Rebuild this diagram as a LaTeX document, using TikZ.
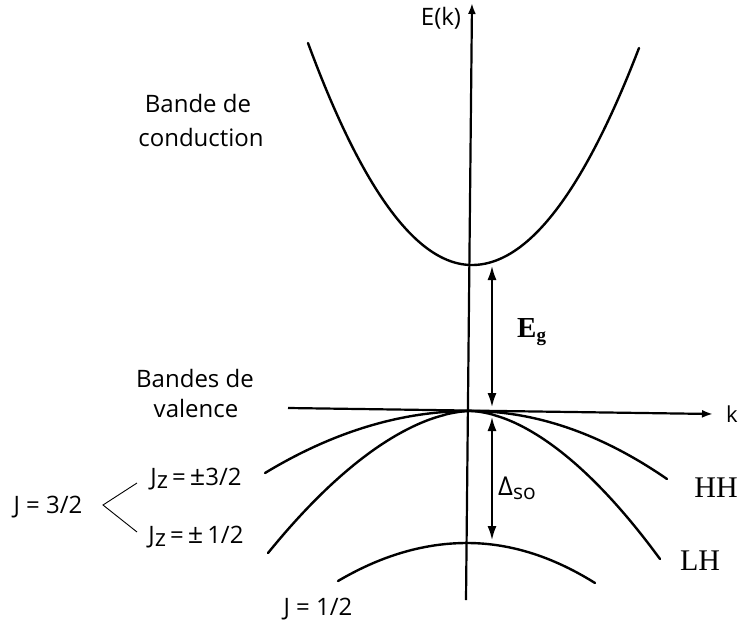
\documentclass[tikz,border=0pt]{standalone}
\usepackage{fontspec}
\setmainfont{Open Sans}
\newfontfamily\serif{Liberation Serif}
\usetikzlibrary{arrows.meta}
\begin{document}
\begin{tikzpicture}[x=1pt,y=-1pt,
  band/.style={line width=2.4pt, line cap=round},
  axis/.style={line width=2.2pt, -{Latex[length=11pt,width=8pt]}},
  gap/.style={line width=2.8pt, {Latex[length=15pt,width=9pt]}-{Latex[length=15pt,width=9pt]}},
  brace/.style={line width=0.9pt},
  lab/.style={font=\fontsize{24}{28}\selectfont, inner sep=0pt, anchor=base},
  slab/.style={font=\serif\fontsize{30}{34}\selectfont, inner sep=0pt, anchor=base},
]
\useasboundingbox (0,0) rectangle (741,621);

% axes
\coordinate (ybot) at (466,600);
\coordinate (ytop) at (472,3);
\coordinate (xleft) at (288,408);
\coordinate (xright) at (713,414);
\draw[axis] (ybot) -- (ytop);
\draw[axis] (xleft) -- (xright);

% conduction band
\draw[band] plot[domain=308:639, samples=120, smooth]
  (\x, {265 - (\x<472 ? 222*((\x-472)/164)^2 : 217*((\x-472)/167)^2)});
% heavy holes
\draw[band] plot[domain=265:667, samples=120, smooth]
  (\x, {411 + (\x<470 ? 62*((\x-470)/205)^2 : 68*((\x-470)/197)^2)});
% light holes
\draw[band] plot[domain=268:660, samples=120, smooth]
  (\x, {411 + (\x<470 ? 142*(abs(\x-470)/202)^1.75 : 148*(abs(\x-470)/190)^1.75)});
% split-off
\draw[band] plot[domain=338:595, samples=100, smooth]
  (\x, {543 + (\x<467 ? 38*((\x-467)/129)^2 : 40*((\x-467)/128)^2)});

% gap arrows
\coordinate (cbmin) at (492,265);
\coordinate (vbtopA) at (492,408);
\coordinate (vbtopB) at (492,416);
\coordinate (somax) at (492,541);
\draw[gap] (cbmin) -- (vbtopA);
\draw[gap] (vbtopB) -- (somax);

% labels
\node[lab] (ek) at (441,25) {E(k)};
\node[lab, font=\fontsize{22}{26}\selectfont] (kk) at (732,422) {k};
\node[lab] (bc1) at (198,112) {Bande de};
\node[lab] (bc2) at (201,146) {conduction};
\node[lab] (bv1) at (195,387) {Bandes de};
\node[lab] (bv2) at (196,417) {valence};
\node[lab] (j32) at (48,513) {J = 3/2};
\node[lab] (jz32) at (196,485) {J\raisebox{-0.25ex}{z}\,=\,{\fontsize{27}{28}\selectfont ±}3/2};
\node[lab] (jz12) at (196,543) {J\raisebox{-0.25ex}{z}\,=\,{\fontsize{27}{28}\selectfont ±}\,1/2};
\node[lab] (j12) at (318,615) {J = 1/2};
\node[slab] (hh) at (716,497) {HH};
\node[slab] (lh) at (700,570) {LH};
\node[inner sep=0pt, anchor=base west, font=\serif\bfseries\fontsize{29}{32}\selectfont] (eg) at (517,337) {E\raisebox{-0.35ex}{\fontsize{19}{22}\selectfont g}};
\node[lab, anchor=base west, font=\fontsize{26}{30}\selectfont] (dso) at (498,495) {Δ\raisebox{-0.3ex}{\fontsize{21}{24}\selectfont so}};

% J=3/2 bracket
\coordinate (br1) at (137,483);
\coordinate (br0) at (103,505);
\coordinate (br2) at (137,532);
\draw[brace] (br1) -- (br0) -- (br2);
\end{tikzpicture}
\end{document}
